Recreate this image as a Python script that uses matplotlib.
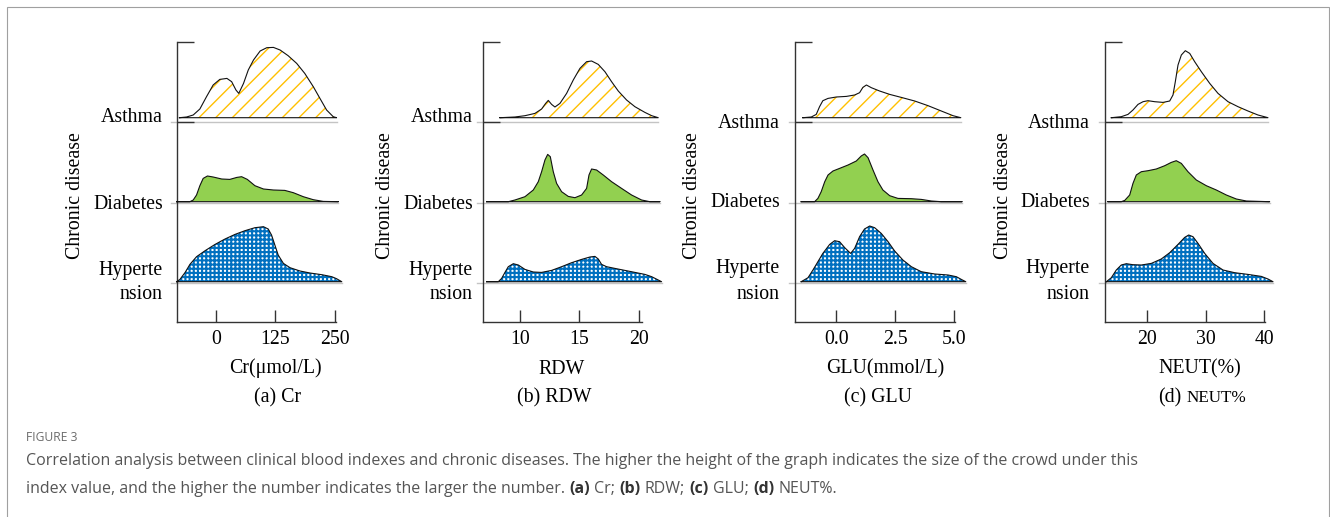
import matplotlib
matplotlib.use("Agg")
import matplotlib.pyplot as plt
from matplotlib.patches import Rectangle

W, H = 1330, 517

# ---- data ---------------------------------------------------------------
DISEASE_LINES = [["Asthma"], ["Diabetes"], ["Hyperte", "nsion"]]
PANEL_TITLES = ["(a) Cr", "(b) RDW", "(c) GLU", "(d)"]
X_LABELS = ["Cr(μmol/L)", "RDW", "GLU(mmol/L)", "NEUT(%)"]
X_TICKS = [[0, 125, 250], [10, 15, 20], [0.0, 2.5, 5.0], [20, 30, 40]]
X_TICK_LABELS = [["0", "125", "250"], ["10", "15", "20"],
                 ["0.0", "2.5", "5.0"], ["20", "30", "40"]]

# density curves: (index value, ridge height)
cr_asthma = [(-77, 0), (-62, 0.7), (-48, 2.7), (-34, 8.7), (-20, 21), (-6, 32.7),
             (8, 38.3), (23, 39.3), (33, 36), (42, 27.7), (48, 24.3), (58, 34.3),
             (68, 47.7), (79, 57.7), (93, 66.7), (107, 70), (121, 70.3), (135, 67.7),
             (152, 62), (170, 54.3), (187, 44.3), (205, 31), (219, 19.3), (233, 7.7),
             (247, 1), (254, 0)]
cr_diabetes = [(-83, 0), (-55, 0), (-48, 1.7), (-41, 6.7), (-34, 16), (-27, 23.3),
               (-18, 25.7), (-6, 24.7), (12, 22.7), (29, 22.3), (44, 24.3), (54, 25),
               (66, 22.3), (82, 16), (100, 12.7), (121, 11.7), (145, 11.3), (163, 9),
               (184, 5), (205, 2), (226, 0.3), (258, 0)]
cr_hyper = [(-83, 0), (-76, 2.3), (-65, 9.3), (-55, 17.3), (-41, 25), (-23, 31),
            (-2, 37.3), (19, 42.7), (40, 47.3), (61, 51), (82, 54), (100, 55),
            (110, 52.7), (117, 46.7), (124, 36.7), (131, 26.7), (142, 18.3), (156, 14),
            (177, 10.7), (198, 8.7), (223, 7), (244, 5), (254, 3), (265, 0)]

rdw_asthma = [(8.32, 0), (9.58, 0.7), (10.42, 2), (11.26, 4.3), (11.82, 8.7),
              (12.16, 14.3), (12.38, 17.3), (12.66, 13.3), (12.94, 10.7), (13.36, 14.3),
              (13.92, 24.3), (14.48, 37.7), (15.04, 49.3), (15.6, 56), (16.02, 56.7),
              (16.58, 53.3), (17.14, 46), (17.7, 36), (18.26, 26.7), (18.96, 17.7),
              (19.66, 11), (20.5, 5.3), (21.07, 2), (21.62, 0)]
rdw_diabetes = [(7.2, 0), (9.02, 0), (9.58, 1.7), (10.42, 5), (11.12, 11.7),
                (11.54, 20), (11.82, 30), (12.1, 41.7), (12.33, 47.3), (12.55, 45),
                (12.8, 30), (13.08, 18.3), (13.5, 10), (14.06, 5.3), (14.62, 4),
                (15.18, 6.7), (15.6, 13.3), (15.8, 26.7), (16.02, 32.7), (16.44, 31.7),
                (17.0, 26.7), (17.7, 20), (18.54, 13.3), (19.38, 6.7), (20.22, 1.7),
                (20.92, 0), (21.76, 0)]
rdw_hyper = [(7.2, 0), (8.18, 0), (8.46, 3.3), (8.74, 9.3), (9.02, 15), (9.44, 18),
             (9.86, 16.7), (10.42, 12.3), (11.12, 9.7), (11.82, 9.3), (12.66, 11.3),
             (13.5, 15), (14.34, 19), (15.18, 22.3), (15.88, 24.7), (16.3, 25.3),
             (16.58, 22.7), (16.86, 17.3), (17.28, 15), (17.98, 13.3), (18.82, 11.3),
             (19.66, 9.3), (20.5, 7.3), (21.07, 5), (21.62, 1.7), (21.9, 0)]

glu_asthma = [(-1.42, 0), (-1.06, 0.7), (-0.85, 3.3), (-0.71, 11), (-0.57, 17),
              (-0.35, 19.3), (0.0, 20.7), (0.43, 21.3), (0.78, 22.7), (0.99, 25),
              (1.13, 30.3), (1.28, 32.7), (1.49, 30), (1.84, 26.7), (2.27, 23.3),
              (2.76, 20.3), (3.33, 16.7), (3.9, 12), (4.46, 6.7), (4.96, 2), (5.29, 0)]
glu_diabetes = [(-1.49, 0), (-0.92, 0), (-0.78, 3.3), (-0.64, 10), (-0.49, 20),
                (-0.35, 26.7), (-0.14, 30.7), (0.14, 33.3), (0.5, 36.7), (0.85, 40.7),
                (1.06, 45.7), (1.2, 47.7), (1.35, 44), (1.56, 31.7), (1.77, 20),
                (1.98, 11.7), (2.27, 6), (2.62, 3.3), (3.19, 3), (3.61, 2.3),
                (4.04, 0.7), (4.46, 0), (5.34, 0)]
glu_hyper = [(-1.49, 0), (-1.2, 4), (-0.99, 11.7), (-0.78, 20), (-0.57, 28.3),
             (-0.28, 37.3), (-0.07, 41), (0.14, 40), (0.36, 34), (0.61, 28.3),
             (0.78, 33.3), (0.99, 45), (1.2, 52.7), (1.42, 55.7), (1.63, 54),
             (1.91, 48.3), (2.2, 40), (2.48, 30.7), (2.83, 21.7), (3.19, 15),
             (3.61, 10), (4.18, 7.7), (4.75, 6.7), (5.1, 5), (5.31, 2.3), (5.5, 0)]

neut_asthma = [(13.9, 0), (15.6, 1), (16.75, 3.3), (17.6, 7.7), (18.46, 13.3),
               (19.32, 16), (20.17, 17), (21.32, 16), (22.74, 15.3), (23.88, 16.7),
               (24.44, 22.7), (24.84, 36), (25.3, 52.7), (25.87, 62.7), (26.55, 67),
               (27.3, 64.3), (28.15, 56), (29.29, 46), (30.72, 34.3), (32.14, 24.3),
               (33.85, 16), (35.56, 11), (37.26, 6.7), (38.97, 2.7), (40.68, 0)]
neut_diabetes = [(13.33, 0), (15.6, 0), (16.19, 1.3), (17.04, 6.7), (17.6, 18.3),
                 (18.17, 26.7), (19.03, 30), (20.17, 31), (21.59, 32.7), (23.03, 36),
                 (24.15, 39.3), (25.0, 41), (25.87, 38.3), (27.0, 30), (28.43, 21.7),
                 (30.14, 16), (31.85, 11.7), (33.56, 6.7), (35.27, 2.7), (36.97, 0.7),
                 (40.97, 0)]
neut_hyper = [(13.05, 0), (13.9, 4), (14.75, 11.7), (15.6, 16.7), (16.46, 18),
              (17.6, 17), (19.03, 16.7), (20.74, 18.3), (22.44, 22.7), (23.88, 29),
              (25.3, 37.3), (26.44, 44.3), (27.13, 46.7), (27.86, 45), (28.72, 38.3),
              (29.86, 28.3), (31.28, 18.3), (32.99, 11.7), (34.99, 9), (37.26, 7.3),
              (39.54, 5.3), (40.68, 2.7), (41.54, 0)]

PANEL_CURVES = [
    [cr_asthma, cr_diabetes, cr_hyper],
    [rdw_asthma, rdw_diabetes, rdw_hyper],
    [glu_asthma, glu_diabetes, glu_hyper],
    [neut_asthma, neut_diabetes, neut_hyper],
]

CAPTION_HEAD = "FIGURE 3"
CAPTION_LINE1 = ("Correlation analysis between clinical blood indexes and chronic diseases. "
                 "The higher the height of the graph indicates the size of the crowd under this")
CAPTION_LINE2 = [("index value, and the higher the number indicates the larger the number.", False),
                 ("(a)", True), ("Cr;", False), ("(b)", True), ("RDW;", False),
                 ("(c)", True), ("GLU;", False), ("(d)", True), ("NEUT%.", False)]

# ---- layout (pixels) -----------------------------------------------------
AX_LEFT_PX = [176.7, 483.3, 795.3, 1105.3]
AX_RIGHT_PX = [335.7, 641.7, 954.7, 1264.7]
XLIMS = [(-82.8, 252.2), (6.92, 20.23), (-1.74, 5.03), (12.87, 40.12)]
AX_TOP_PX, AX_BOTTOM_PX = 41.7, 322.3
CURVE_BASE = [204.6, 120.6, 40.6]
GRAY_BASE = [200.0, 119.0, 39.6]
LABEL_RIGHT_PX = [163, 472.7, 780, 1090]
LABEL_BASELINE_PX = [[122.3, 209, 274.5, 299], [122.3, 209, 274.5, 299],
                     [127.7, 206.7, 273.5, 299], [127.7, 206.7, 273.5, 299]]
YLABEL_X_PX = [75.5, 386, 693, 1003]
XLABEL_X_PX = [275, 561.7, 885, 1199.5]
TITLE_X_PX = [277.5, 554.5, 877.5, 1158]

STYLES = [
    dict(face="white", hatch="//", hatch_color="#FFC000"),
    dict(face="#92D050", hatch=None, hatch_color=None),
    dict(face="white", hatch="++++", hatch_color="#0070C0"),
]

plt.rcParams["font.family"] = ["Liberation Serif", "DejaVu Serif"]
plt.rcParams["hatch.linewidth"] = 1.0

fig = plt.figure(figsize=(W / 100, H / 100), dpi=100)


def fx(px):
    return px / W


def fy(py):
    return 1 - py / H


def draw_panel(i):
    left, right = AX_LEFT_PX[i], AX_RIGHT_PX[i]
    ax = fig.add_axes([fx(left), fy(AX_BOTTOM_PX), (right - left) / W,
                       (AX_BOTTOM_PX - AX_TOP_PX) / H])
    ax.set_xlim(XLIMS[i])
    ax.set_ylim(0, AX_BOTTOM_PX - AX_TOP_PX)
    per_unit = (right - left) / (XLIMS[i][1] - XLIMS[i][0])

    for j, curve in enumerate(PANEL_CURVES[i]):
        xs = [p[0] for p in curve]
        ys = [CURVE_BASE[j] + p[1] for p in curve]
        poly_x = xs + xs[::-1]
        poly_y = ys + [CURVE_BASE[j]] * len(xs)
        st = STYLES[j]

        ax.plot([XLIMS[i][0] - 6 / per_unit, xs[-1]], [GRAY_BASE[j]] * 2,
                color="#c4c4c4", lw=1.0, clip_on=False, zorder=1)
        ax.fill(poly_x, poly_y, facecolor=st["face"], edgecolor="none", lw=0,
                clip_on=False, zorder=2)
        if st["hatch"]:
            patch = ax.fill(poly_x, poly_y, facecolor="none", edgecolor=st["hatch_color"],
                            hatch=st["hatch"], lw=0, clip_on=False, zorder=3)[0]
            if j == 2 and hasattr(patch, "set_hatch_linewidth"):
                patch.set_hatch_linewidth(1.5)
        ax.plot(poly_x + [poly_x[0]], poly_y + [poly_y[0]], color="#111111", lw=0.8,
                clip_on=False, zorder=4, solid_joinstyle="round")

    for side in ["top", "right"]:
        ax.spines[side].set_visible(False)
    for side in ["left", "bottom"]:
        ax.spines[side].set_color("#333333")
        ax.spines[side].set_linewidth(1.0)
    ax.patch.set_alpha(0)

    ax.set_xticks(X_TICKS[i])
    ax.set_xticklabels(X_TICK_LABELS[i], fontsize=14.2)
    ax.tick_params(axis="x", direction="in", length=8.6, width=1.0, pad=5.2,
                   color="#333333")
    ax.set_yticks([GRAY_BASE[0], AX_BOTTOM_PX - AX_TOP_PX])
    ax.set_yticklabels([])
    ax.tick_params(axis="y", direction="in", length=12, width=1.0, color="#333333")

    # category labels
    rows = LABEL_BASELINE_PX[i]
    texts = ["Asthma", "Diabetes", "Hyperte", "nsion"]
    for t, yb in zip(texts, rows):
        fig.text(fx(LABEL_RIGHT_PX[i]), fy(yb), t, ha="right", va="baseline",
                 fontsize=14.3)

    fig.text(fx(YLABEL_X_PX[i]), fy(196), "Chronic disease", rotation=90,
             ha="center", va="center", fontsize=14.3)
    fig.text(fx(XLABEL_X_PX[i]), fy(373.5), X_LABELS[i], ha="center",
             va="baseline", fontsize=14.3)
    if i < 3:
        fig.text(fx(TITLE_X_PX[i]), fy(402), PANEL_TITLES[i], ha="center",
                 va="baseline", fontsize=14.3)


for i in range(4):
    draw_panel(i)

renderer = fig.canvas.get_renderer()

# "(d) NEUT%" has a smaller second part
t = fig.text(fx(TITLE_X_PX[3]), fy(402), PANEL_TITLES[3], ha="left",
             va="baseline", fontsize=14.3)
x_end = t.get_window_extent(renderer).x1
fig.text((x_end + 5) / W, fy(402), "NEUT%", ha="left", va="baseline", fontsize=12.3)

# caption
cap_font = ["Open Sans", "DejaVu Sans"]
fig.text(fx(26), fy(441), CAPTION_HEAD, family=cap_font, fontsize=8.7,
         color="#6b6b6b", va="baseline")
fig.text(fx(26), fy(465), CAPTION_LINE1, family=cap_font, fontsize=11.5,
         color="#555555", va="baseline")
x = 26
for k, (txt, bold) in enumerate(CAPTION_LINE2):
    t = fig.text(fx(x), fy(492.7), txt, family=cap_font, fontsize=11.5,
                 color="#333333" if bold else "#555555",
                 fontweight="bold" if bold else "normal", va="baseline")
    x = t.get_window_extent(renderer).x1 + 4.3

# outer frame
fig.add_artist(Rectangle((fx(6.7), -0.05), (1329 - 6.7) / W, fy(7.3) + 0.05,
                         transform=fig.transFigure, fill=False,
                         edgecolor="#a0a0a0", lw=0.8))

fig.savefig("out.png", dpi=100)
plt.close(fig)
